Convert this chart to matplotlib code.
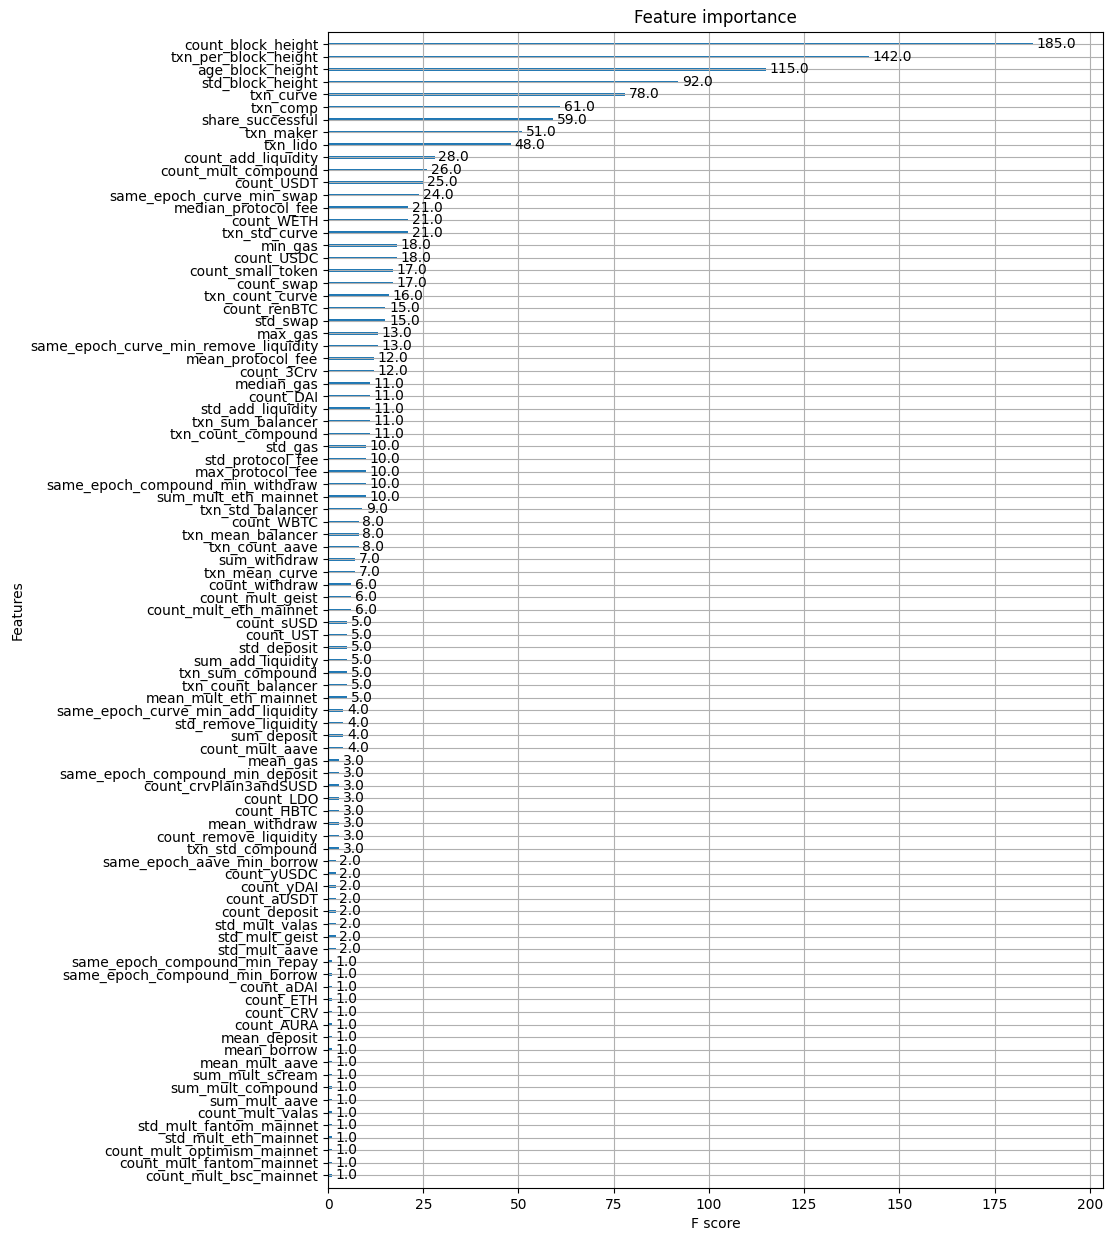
import matplotlib.pyplot as plt
import numpy as np

# features listed top to bottom, as in the chart
features = [
    'count_block_height', 'txn_per_block_height', 'age_block_height', 'std_block_height',
    'txn_curve', 'txn_comp', 'share_successful', 'txn_maker', 'txn_lido',
    'count_add_liquidity', 'count_mult_compound', 'count_USDT', 'same_epoch_curve_min_swap',
    'median_protocol_fee', 'count_WETH', 'txn_std_curve', 'min_gas', 'count_USDC',
    'count_small_token', 'count_swap', 'txn_count_curve', 'count_renBTC', 'std_swap',
    'max_gas', 'same_epoch_curve_min_remove_liquidity', 'mean_protocol_fee', 'count_3Crv',
    'median_gas', 'count_DAI', 'std_add_liquidity', 'txn_sum_balancer', 'txn_count_compound',
    'std_gas', 'std_protocol_fee', 'max_protocol_fee', 'same_epoch_compound_min_withdraw',
    'sum_mult_eth_mainnet', 'txn_std_balancer', 'count_WBTC', 'txn_mean_balancer',
    'txn_count_aave', 'sum_withdraw', 'txn_mean_curve', 'count_withdraw', 'count_mult_geist',
    'count_mult_eth_mainnet', 'count_sUSD', 'count_UST', 'std_deposit', 'sum_add_liquidity',
    'txn_sum_compound', 'txn_count_balancer', 'mean_mult_eth_mainnet',
    'same_epoch_curve_min_add_liquidity', 'std_remove_liquidity', 'sum_deposit',
    'count_mult_aave', 'mean_gas', 'same_epoch_compound_min_deposit', 'count_crvPlain3andSUSD',
    'count_LDO', 'count_HBTC', 'mean_withdraw', 'count_remove_liquidity', 'txn_std_compound',
    'same_epoch_aave_min_borrow', 'count_yUSDC', 'count_yDAI', 'count_aUSDT', 'count_deposit',
    'std_mult_valas', 'std_mult_geist', 'std_mult_aave', 'same_epoch_compound_min_repay',
    'same_epoch_compound_min_borrow', 'count_aDAI', 'count_ETH', 'count_CRV', 'count_AURA',
    'mean_deposit', 'mean_borrow', 'mean_mult_aave', 'sum_mult_scream', 'sum_mult_compound',
    'sum_mult_aave', 'count_mult_valas', 'std_mult_fantom_mainnet', 'std_mult_eth_mainnet',
    'count_mult_optimism_mainnet', 'count_mult_fantom_mainnet', 'count_mult_bsc_mainnet',
]
scores = [
    185, 142, 115, 92, 78, 61, 59, 51, 48,
    28, 26, 25, 24, 21, 21, 21, 18, 18,
    17, 17, 16, 15, 15, 13, 13, 12, 12,
    11, 11, 11, 11, 11, 10, 10, 10, 10,
    10, 9, 8, 8, 8, 7, 7, 6, 6,
    6, 5, 5, 5, 5, 5, 5, 5, 4,
    4, 4, 4, 3, 3, 3, 3, 3, 3,
    3, 3, 2, 2, 2, 2, 2, 2, 2,
    2, 1, 1, 1, 1, 1, 1, 1, 1,
    1, 1, 1, 1, 1, 1, 1, 1, 1, 1,
]

# bottom-up order for barh
labels = features[::-1]
values = [float(v) for v in scores[::-1]]
ylocs = np.arange(len(values))

fig, ax = plt.subplots(figsize=(11.12, 12.4), dpi=100)
ax.barh(ylocs, values, align='center', height=0.2)
for x, y in zip(values, ylocs):
    ax.text(x + 1, y, x, va='center')

ax.set_yticks(ylocs)
ax.set_yticklabels(labels)
ax.set_xlim(0, max(values) * 1.1)
ax.set_ylim(-1, len(values))
ax.set_title('Feature importance')
ax.set_xlabel('F score')
ax.set_ylabel('Features')
ax.grid(True)

plt.subplots_adjust(left=0.295, right=0.992, top=0.9745, bottom=0.042)
plt.savefig('out.png')
